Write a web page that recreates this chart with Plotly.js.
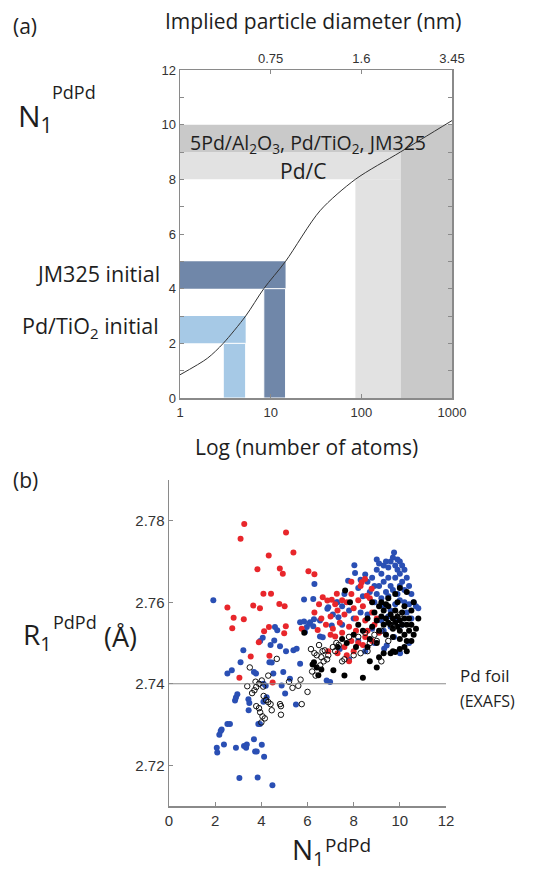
<!DOCTYPE html>
<html>
<head>
<meta charset="utf-8">
<script src="https://cdn.plot.ly/plotly-3.0.1.min.js"></script>
<style>
  html, body { margin: 0; padding: 0; background: #fff; }
  #chart { width: 533px; height: 875px; }
</style>
</head>
<body>
<div id="chart"></div>
<script>
// ---------- Panel (a): coordination number vs cluster size ----------
const atoms   = [1, 2, 3, 5.3, 8.4, 14.6, 35, 86, 270, 1000];
const n1Curve = [0.85, 1.45, 2.0, 3.0, 4.0, 5.0, 6.85, 8.0, 9.0, 10.15];

// top axis: implied particle diameter at 10, 100, 1000 atoms
const diamAtoms  = [10, 100, 1000];
const diamLabels = ['0.75', '1.6', '3.45'];

// shaded ranges (N1 limits and matching atom counts)
const tio2InitN1 = [2, 3],  tio2InitAtoms = [3.0, 5.3];
const jmInitN1   = [4, 5],  jmInitAtoms   = [8.4, 14.6];
const pdcN1      = [8, 9],  pdcAtoms      = [86, 270];
const finalN1    = [9, 10], finalAtoms    = [270, 1000];

// ---------- Panel (b): R1 vs N1 ----------
const bluePts = [
  [1.92,2.7605],
  [2.07,2.7243],[2.09,2.7231],[2.38,2.7251],[2.90,2.7243],[3.25,2.7247],[3.34,2.7243],[3.37,2.7251],
  [3.73,2.7234],[3.80,2.7234],[3.68,2.7264],[4.02,2.7250],[4.12,2.7221],[3.05,2.7169],[3.84,2.7170],[4.48,2.7151],
  [2.18,2.7275],[2.24,2.7284],[2.28,2.7288],[2.53,2.7301],[2.64,2.7301],
  [2.86,2.7359],[2.90,2.7366],[2.96,2.7374],[3.44,2.7362],[3.48,2.7353],[3.45,2.7335],
  [3.87,2.7301],[3.94,2.7301],
  [2.53,2.7425],[2.72,2.7433],[3.10,2.7453],[3.22,2.7482],[3.68,2.7429],[3.77,2.7425],
  [4.06,2.7513],[4.09,2.7400],[4.19,2.7395],[4.23,2.7367],[4.35,2.7453],[4.45,2.7452],[4.52,2.7425],
  [4.56,2.7506],[4.59,2.7539],[4.69,2.7531],[4.88,2.7396],[4.95,2.7429],[5.03,2.7376],[4.81,2.7492],
  [5.07,2.7480],[5.24,2.7412],[5.39,2.7482],[5.53,2.7486],[5.68,2.7449],[5.50,2.7349],[5.89,2.7527],
  [5.97,2.7539],[6.11,2.7551],[6.25,2.7541],[6.54,2.7516],[6.66,2.7514],[6.83,2.7408],[6.98,2.7404],
  [7.05,2.7543],[4.09,2.7356],[3.95,2.7505],[4.40,2.7495],
  [5.85,2.7607],[6.25,2.7608],[6.30,2.7645],[5.68,2.7551],[5.85,2.7553],[6.07,2.7547],[6.28,2.7558],
  [6.54,2.7555],[6.86,2.7584],[7.34,2.7563],[7.26,2.7600],[6.90,2.7588],[7.76,2.7653],[7.10,2.7570],[7.50,2.7545],
  [8.03,2.7691],[8.06,2.7672],[8.30,2.7655],[8.50,2.7668],[8.20,2.7635],[8.60,2.7650],[8.70,2.7625],
  [8.40,2.7615],[8.80,2.7660],[8.90,2.7640],[9.00,2.7680],[9.10,2.7695],[9.00,2.7705],[9.20,2.7670],
  [9.30,2.7650],[9.30,2.7690],[9.40,2.7700],[9.50,2.7685],[9.50,2.7660],[9.60,2.7640],[9.60,2.7700],
  [9.70,2.7710],[9.75,2.7722],[9.80,2.7690],[9.80,2.7660],[9.90,2.7680],[9.90,2.7705],[10.00,2.7700],
  [10.00,2.7670],[10.10,2.7690],[10.10,2.7650],[10.20,2.7680],[10.30,2.7660],[10.20,2.7630],[10.40,2.7640],
  [10.50,2.7620],[10.60,2.7600],[10.70,2.7590],[10.80,2.7585],[10.40,2.7595],[9.00,2.7620],[9.20,2.7610],
  [9.40,2.7625],[9.50,2.7615],[9.70,2.7630],[9.90,2.7620],[10.00,2.7640],[9.10,2.7640],[8.90,2.7600],
  [9.30,2.7590],[9.60,2.7580],[9.80,2.7595],[10.00,2.7605],[10.20,2.7600],[10.30,2.7575],[9.50,2.7565],
  [9.20,2.7555],[9.90,2.7560],[10.10,2.7545],[10.50,2.7560],[9.60,2.7540],[9.30,2.7530],[8.80,2.7535],
  [8.60,2.7570],[8.30,2.7575],[8.00,2.7560],[7.80,2.7580],[7.50,2.7590],[7.60,2.7620],[7.30,2.7600],
  [9.32,2.7486],[9.43,2.7494],[10.01,2.7475],[9.75,2.7515],[8.90,2.7500],[8.50,2.7480],[7.80,2.7460],
  [7.40,2.7485],[8.20,2.7505],[10.40,2.7500]
];

const redPts = [
  [3.26,2.7792],[3.10,2.7756],[5.07,2.7771],[4.32,2.7715],[5.39,2.7722],[3.83,2.7681],[4.80,2.7683],
  [4.93,2.7670],[6.04,2.7676],[6.30,2.7669],[4.09,2.7621],[4.42,2.7621],[2.53,2.7587],[3.65,2.7592],
  [3.94,2.7585],[4.78,2.7596],[5.01,2.7590],[2.80,2.7562],[3.24,2.7558],[2.74,2.7536],[4.33,2.7539],
  [5.06,2.7541],[4.12,2.7529],[4.99,2.7524],[3.89,2.7502],[3.54,2.7467],[4.35,2.7469],[3.05,2.7415],
  [4.49,2.7403],[5.75,2.7535],[6.44,2.7532],
  [6.66,2.7612],[6.86,2.7604],[7.05,2.7606],[7.27,2.7621],
  [6.30,2.7575],[6.60,2.7560],[6.80,2.7545],[7.00,2.7565],[7.10,2.7535],[7.20,2.7516],[7.30,2.7580],
  [7.40,2.7550],[7.50,2.7525],[7.60,2.7570],[7.70,2.7600],[7.80,2.7540],[7.90,2.7620],[8.00,2.7585],
  [8.10,2.7560],[8.20,2.7605],[8.30,2.7640],[8.40,2.7590],[8.50,2.7555],[8.60,2.7530],[8.70,2.7610],
  [8.80,2.7575],[8.90,2.7545],[8.50,2.7515],[8.20,2.7500],[7.90,2.7505],[7.60,2.7490],[8.00,2.7480],
  [8.40,2.7495],[8.80,2.7505],[9.00,2.7560],[9.10,2.7525],[8.35,2.7649],[8.49,2.7657],[8.78,2.7633],
  [8.57,2.7616],[7.50,2.7605],[7.00,2.7520],[6.90,2.7480],[7.30,2.7475],[7.70,2.7470],[6.50,2.7595],
  [8.10,2.7530],[7.80,2.7455],[7.20,2.7595],[7.90,2.7650]
];

const blackPts = [
  [7.63,2.7629],[7.84,2.7600],[6.22,2.7447],[6.28,2.7453],[6.40,2.7440],[6.47,2.7421],[6.60,2.7435],
  [7.12,2.7433],[7.60,2.7420],[8.40,2.7415],[9.00,2.7440],[8.70,2.7455],[9.10,2.7465],[9.30,2.7475],
  [9.60,2.7475],[9.70,2.7480],[9.80,2.7478],[10.00,2.7485],[10.20,2.7490],[10.30,2.7480],[5.86,2.7525],
  [8.60,2.7560],[8.80,2.7540],[8.90,2.7575],[9.00,2.7555],[9.10,2.7590],[9.20,2.7565],[9.30,2.7545],
  [9.30,2.7580],[9.40,2.7560],[9.50,2.7550],[9.50,2.7590],[9.60,2.7570],[9.60,2.7545],[9.70,2.7560],
  [9.70,2.7535],[9.80,2.7580],[9.80,2.7550],[9.90,2.7565],[9.90,2.7540],[10.00,2.7555],[10.00,2.7530],
  [10.10,2.7575],[10.10,2.7545],[10.20,2.7560],[10.20,2.7520],[10.30,2.7545],[10.40,2.7560],[10.40,2.7530],
  [10.50,2.7545],[10.60,2.7520],[10.70,2.7535],[10.50,2.7505],[10.30,2.7505],[10.00,2.7510],[9.70,2.7515],
  [9.40,2.7520],[9.10,2.7530],[8.70,2.7510],[8.40,2.7530],[8.20,2.7545],[8.00,2.7520],[7.70,2.7500],
  [7.50,2.7510],[7.30,2.7490],[8.10,2.7490],[8.60,2.7490],[9.00,2.7500],[9.20,2.7600],[9.50,2.7610],
  [9.90,2.7600],[10.20,2.7590],[10.50,2.7580],[10.80,2.7560],[9.80,2.7620],[10.00,2.7635],[10.30,2.7625],
  [10.60,2.7600],[8.80,2.7600],[9.40,2.7595]
];

const openPts = [
  [3.39,2.7394],[3.60,2.7377],[3.70,2.7384],[3.78,2.7392],[3.90,2.7400],[4.02,2.7408],[4.08,2.7393],
  [3.78,2.7345],[3.90,2.7340],[3.95,2.7330],[4.05,2.7320],[4.15,2.7315],[4.00,2.7305],[4.20,2.7360],
  [4.30,2.7355],[4.40,2.7350],[4.45,2.7335],[4.67,2.7461],[4.81,2.7350],[4.85,2.7345],[4.85,2.7324],
  [5.20,2.7405],[5.35,2.7390],[5.60,2.7395],[5.70,2.7410],[5.75,2.7350],[6.00,2.7380],[3.50,2.7440],
  [3.75,2.7405],[4.10,2.7370],[4.30,2.7420],
  [6.15,2.7485],[6.30,2.7475],[6.40,2.7470],[6.50,2.7495],[6.60,2.7465],[6.65,2.7480],[6.75,2.7482],
  [6.70,2.7455],[6.85,2.7460],[6.90,2.7470],[7.10,2.7490],[7.20,2.7480],[7.25,2.7500],[7.35,2.7495],
  [6.20,2.7430],[6.35,2.7420],[6.55,2.7445],[7.50,2.7455],[7.60,2.7460],[8.00,2.7470],[8.30,2.7475],
  [8.60,2.7480],[8.70,2.7500],[9.20,2.7455],[9.00,2.7505],[8.90,2.7520],[8.50,2.7525],[8.20,2.7515],
  [7.80,2.7515],[9.50,2.7505],[9.20,2.7530],[9.70,2.7540],[10.00,2.7570]
];

const pdFoilR = 2.74;
const xTicksB = [0, 2, 4, 6, 8, 10, 12];
const yTicksB = [2.72, 2.74, 2.76, 2.78];

// ---------- helpers ----------
const W = 533, H = 875;
const px = v => v / W;
const py = v => 1 - v / H;
const col = (pts, i) => pts.map(p => p[i]);

const TXT = '#1e1e1e';
const LINE = '#8a8a8a';
const TICKFONT_A = { family: 'Liberation Sans, Arial, sans-serif', size: 13, color: '#333' };
const TICKFONT_B = { family: 'Liberation Sans, Arial, sans-serif', size: 15, color: '#333' };
const LABFONT = 'Open Sans, Noto Sans, sans-serif';

const DARK_GRAY = '#c9c9c9', LIGHT_GRAY = '#e2e2e2';
const DARK_BLUE = '#7087a9', LIGHT_BLUE = '#a6c9e6';

function rect(x0, x1, y0, y1, fill, edge) {
  return { type: 'rect', xref: 'x', yref: 'y', x0, x1, y0, y1, layer: 'below',
           fillcolor: fill, line: { width: edge ? 1 : 0, color: '#ffffff' } };
}

const shapes = [
  // final state (dark gray)
  rect(atoms[0], finalAtoms[1], finalN1[0], finalN1[1], DARK_GRAY),
  rect(finalAtoms[0], finalAtoms[1], 0, finalN1[0], DARK_GRAY),
  // Pd/C (light gray)
  rect(atoms[0], pdcAtoms[1], pdcN1[0], pdcN1[1], LIGHT_GRAY),
  rect(pdcAtoms[0], pdcAtoms[1], 0, pdcN1[0], LIGHT_GRAY),
  // JM325 initial
  rect(atoms[0], jmInitAtoms[1], jmInitN1[0], jmInitN1[1], DARK_BLUE),
  rect(jmInitAtoms[0], jmInitAtoms[1], 0, jmInitN1[0], DARK_BLUE, true),
  // Pd/TiO2 initial
  rect(atoms[0], tio2InitAtoms[1], tio2InitN1[0], tio2InitN1[1], LIGHT_BLUE),
  rect(tio2InitAtoms[0], tio2InitAtoms[1], 0, tio2InitN1[0], LIGHT_BLUE, true),
  // Pd foil reference line in panel (b)
  { type: 'line', xref: 'x2', yref: 'y2', x0: 0, x1: 12.3, y0: pdFoilR, y1: pdFoilR,
    line: { color: '#8c8c8c', width: 1.2 } }
];

function ann(text, x, y, size, xanchor) {
  return { text, xref: 'paper', yref: 'paper', x: px(x), y: py(y),
    xanchor: xanchor || 'center', yanchor: 'middle', showarrow: false,
    font: { family: LABFONT, size, color: TXT } };
}

const annotations = [
  ann('(a)', 11, 26, 21, 'left'),
  ann('Implied particle diameter (nm)', 313, 21, 21),
  // N1 with raised PdPd superscript (panel a)
  ann('N<sub>1</sub>', 16, 117, 30, 'left'),
  ann('PdPd', 50, 92, 18, 'left'),
  ann('JM325 initial', 162, 273, 21.5, 'right'),
  ann('Pd/TiO<sub>2</sub> initial', 161, 327, 21.5, 'right'),
  ann('5Pd/Al<sub>2</sub>O<sub>3</sub>, Pd/TiO<sub>2</sub>, JM325', 308, 143, 19.5),
  ann('Pd/C', 303, 171, 21),
  ann('Log (number of atoms)', 306, 447, 21),
  ann('(b)', 11, 480, 21, 'left'),
  // R1 axis title (panel b)
  ann('R<sub>1</sub>', 21, 636, 28, 'left'),
  ann('PdPd', 51, 622, 18, 'left'),
  ann('(Å)', 139, 636, 27, 'right'),
  ann('Pd foil', 458, 675, 17, 'left'),
  ann('(EXAFS)', 458, 701, 16, 'left'),
  // N1 axis title (panel b)
  ann('N<sub>1</sub>', 290, 851, 28, 'left'),
  ann('PdPd', 323, 845, 19, 'left')
];

const traces = [
  { type: 'scatter', mode: 'lines', x: atoms, y: n1Curve, xaxis: 'x', yaxis: 'y',
    line: { color: '#333', width: 1, shape: 'spline', smoothing: 0.8 }, hoverinfo: 'skip' },
  { type: 'scatter', mode: 'markers', x: diamAtoms, y: diamAtoms.map(() => null), xaxis: 'x3', yaxis: 'y',
    hoverinfo: 'skip', marker: { opacity: 0 } },
  { type: 'scatter', mode: 'markers', x: col(bluePts, 0), y: col(bluePts, 1), xaxis: 'x2', yaxis: 'y2',
    marker: { color: '#2a4fb4', size: 6 } },
  { type: 'scatter', mode: 'markers', x: col(redPts, 0), y: col(redPts, 1), xaxis: 'x2', yaxis: 'y2',
    marker: { color: '#e8262b', size: 6 } },
  { type: 'scatter', mode: 'markers', x: col(blackPts, 0), y: col(blackPts, 1), xaxis: 'x2', yaxis: 'y2',
    marker: { color: '#000000', size: 6 } },
  { type: 'scatter', mode: 'markers', x: col(openPts, 0), y: col(openPts, 1), xaxis: 'x2', yaxis: 'y2',
    marker: { symbol: 'circle-open', color: '#111', size: 5.5, line: { width: 1 } } }
];

const yTicksA = [0,1,2,3,4,5,6,7,8,9,10,11,12];

const layout = {
  width: W, height: H,
  margin: { l: 0, r: 0, t: 0, b: 0 },
  paper_bgcolor: '#fff', plot_bgcolor: 'rgba(0,0,0,0)',
  showlegend: false,
  xaxis: {
    type: 'log', range: [0, 3], domain: [px(180), px(452)], anchor: 'y',
    tickvals: [1, 10, 100, 1000], ticktext: ['1', '10', '100', '1000'],
    ticks: 'inside', ticklen: 4, tickcolor: LINE, showline: true, linecolor: LINE, linewidth: 1.5,
    showgrid: false, zeroline: false, tickfont: TICKFONT_A, ticklabelstandoff: 2
  },
  xaxis3: {
    type: 'log', range: [0, 3], overlaying: 'x', anchor: 'y', side: 'top',
    tickvals: diamAtoms, ticktext: diamLabels,
    ticks: 'inside', ticklen: 4, tickcolor: LINE, showline: true, linecolor: LINE, linewidth: 1.5,
    showgrid: false, zeroline: false, tickfont: TICKFONT_A
  },
  yaxis: {
    range: [0, 12], domain: [py(398), py(70)], anchor: 'x',
    tickvals: yTicksA, ticktext: yTicksA.map(v => v % 2 === 0 ? String(v) : ''),
    ticks: 'inside', ticklen: 4, tickcolor: LINE, showline: true, linecolor: LINE, linewidth: 1.5,
    mirror: 'ticks', showgrid: false, zeroline: false, tickfont: TICKFONT_A
  },
  xaxis2: {
    range: [0, 12], domain: [px(169), px(446)], anchor: 'y2',
    tickvals: xTicksB, ticks: 'inside', ticklen: 4, tickcolor: LINE,
    showline: true, linecolor: LINE, linewidth: 1.5, showgrid: false, zeroline: false, tickfont: TICKFONT_B
  },
  yaxis2: {
    range: [2.71, 2.79], domain: [py(806), py(480)], anchor: 'x2',
    tickvals: yTicksB, ticktext: yTicksB.map(v => v.toFixed(2)), ticks: 'inside', ticklen: 4, tickcolor: LINE,
    showline: true, linecolor: LINE, linewidth: 1.5, showgrid: false, zeroline: false, tickfont: TICKFONT_B
  },
  shapes, annotations
};

Plotly.newPlot('chart', traces, layout, { staticPlot: true, displayModeBar: false });
</script>
</body>
</html>
